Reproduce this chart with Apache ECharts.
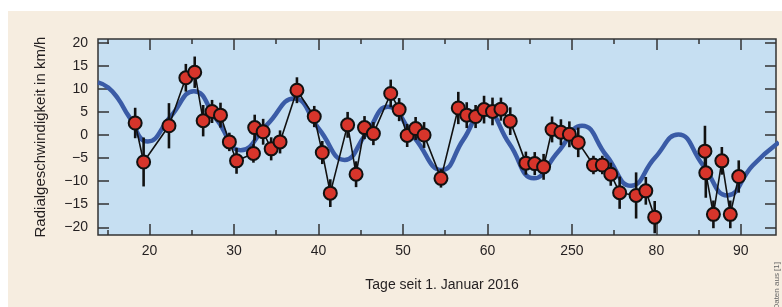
<!DOCTYPE html>
<html>
<head>
<meta charset="utf-8">
<script src="https://cdn.jsdelivr.net/npm/echarts@6/dist/echarts.min.js"></script>
<style>
  html, body { margin: 0; padding: 0; background: #fff; }
  #main { width: 782px; height: 307px; }
</style>
</head>
<body>
<div id="main"></div>
<script>
// Messwerte: Tag, Radialgeschwindigkeit, Fehler
var obsDay = [18.3, 19.3, 22.3, 24.3, 25.35, 26.35, 27.4, 28.4, 29.45, 30.3,
  32.3, 32.45, 33.45, 34.4, 35.45, 37.45, 39.5, 40.45, 41.4, 43.45,
  44.45, 45.45, 46.5, 48.55, 49.55, 50.5, 51.5, 52.5, 54.5, 56.55,
  57.55, 58.6, 59.6, 60.6, 61.6, 62.7, 64.55, 65.6, 66.65, 67.65,
  68.7, 69.7, 70.75, 72.55, 73.6, 74.6, 75.65, 77.6, 78.75, 79.8,
  85.75, 85.85, 86.75, 87.75, 88.75, 89.75];
var obsVel = [2.6, -5.85, 2.0, 12.4, 13.6, 3.1, 5.1, 4.3, -1.5, -5.6,
  -4.0, 1.6, 0.7, -3.0, -1.5, 9.7, 4.0, -3.8, -12.6, 2.2,
  -8.5, 1.6, 0.3, 9.0, 5.5, -0.1, 1.4, 0.0, -9.4, 5.85,
  4.3, 4.0, 5.5, 5.1, 5.6, 3.0, -6.1, -6.2, -6.9, 1.2,
  0.6, 0.15, -1.6, -6.5, -6.5, -8.5, -12.5, -13.1, -12.1, -17.8,
  -3.5, -8.2, -17.2, -5.6, -17.2, -9.0];
var obsErr = [3.3, 5.3, 4.9, 3.0, 3.4, 3.4, 2.5, 2.7, 2.0, 2.8,
  2.0, 2.8, 2.8, 2.5, 2.5, 2.8, 2.3, 2.5, 3.0, 2.8,
  2.8, 2.5, 2.5, 3.0, 2.5, 2.5, 2.5, 2.8, 2.0, 3.5,
  2.8, 2.5, 3.0, 3.0, 2.5, 3.0, 2.5, 2.5, 2.8, 2.8,
  2.8, 2.8, 3.2, 2.0, 2.0, 2.5, 3.5, 5.0, 3.0, 3.5,
  5.5, 5.4, 3.0, 3.0, 3.0, 3.5];

// Modellkurve
var fitDay = [13.9, 15.1, 16.3, 17.5, 19.8, 22.5, 25.25, 28.0, 30.8, 33.95,
  37.1, 40.1, 43.1, 45.65, 48.2, 51.4, 54.6, 57.15, 59.7, 62.6,
  65.5, 68.35, 71.2, 74.1, 77.0, 79.8, 82.6, 85.5, 88.4, 91.4,
  94.5];
var fitVel = [11.4, 10.3, 7.8, 4.2, -1.4, 4.0, 9.5, 3.2, -3.3, 2.3,
  7.9, 1.2, -5.4, 0.3, 6.1, -0.7, -7.6, -1.0, 5.6, -1.9,
  -9.4, -3.7, 2.0, -4.5, -11.0, -5.0, 0.1, -6.5, -13.1, -6.6,
  -1.6];

var xMajor = [20, 30, 40, 50, 60, 70, 80, 90];
var xLabels = ['20', '30', '40', '50', '60', '250', '80', '90'];
var xMinor = [15, 25, 35, 45, 55, 65, 75, 85];
var yTicks = [-20, -15, -10, -5, 0, 5, 10, 15, 20];
var yLabels = ['\u221220', '\u221215', '\u221210', '\u22125', '0', '5', '10', '15', '20'];

var xMin = 13.9, xMax = 94.16, yMin = -21.67, yMax = 20.8;
var font = '"Liberation Sans", Arial, sans-serif';
var ink = '#231f20';

// Verbindungslinie mit Lücke bei großen Abständen
var connData = [];
obsDay.forEach(function (d, i) {
  if (i > 0 && d - obsDay[i - 1] > 4) connData.push(['-', '-']);
  connData.push([d, obsVel[i]]);
});

function xAxisDef(pos, ticks, len, withLabels) {
  return {
    type: 'value', position: pos, min: xMin, max: xMax,
    axisLine: { show: false, onZero: false },
    splitLine: { show: false },
    axisTick: { show: true, inside: true, length: len, customValues: ticks,
      lineStyle: { color: '#333', width: 1.5 } },
    axisLabel: withLabels ? {
      show: true, customValues: ticks, margin: 9,
      fontFamily: font, fontSize: 14, color: ink,
      formatter: function (v) { return xLabels[xMajor.indexOf(v)]; }
    } : { show: false },
    name: withLabels ? 'Tage seit 1. Januar 2016' : '',
    nameLocation: 'middle', nameGap: 43,
    nameTextStyle: { fontFamily: font, fontSize: 14, color: ink, padding: [0, 0, 0, 10] }
  };
}

function yAxisDef(pos, withLabels) {
  return {
    type: 'value', position: pos, min: yMin, max: yMax,
    axisLine: { show: false, onZero: false },
    splitLine: { show: false },
    axisTick: { show: true, inside: true, length: 11, customValues: yTicks,
      lineStyle: { color: '#333', width: 1.5 } },
    axisLabel: withLabels ? {
      show: true, customValues: yTicks, margin: 10,
      fontFamily: font, fontSize: 14, color: ink,
      formatter: function (v) { return yLabels[yTicks.indexOf(v)]; }
    } : { show: false },
    name: withLabels ? 'Radialgeschwindigkeit in km/h' : '',
    nameLocation: 'middle', nameGap: 50,
    nameTextStyle: { fontFamily: font, fontSize: 15, color: ink }
  };
}

var chart = echarts.init(document.getElementById('main'));
chart.setOption({
  animation: false,
  backgroundColor: '#fff',
  graphic: [
    { type: 'rect', z: -10, shape: { x: 8, y: 11, width: 774, height: 296 },
      style: { fill: '#f6ede0' } },
    { type: 'text', x: 781, y: 262, rotation: Math.PI / 2, z: 10,
      style: { text: 'Daten aus [1]', font: '8px ' + font, fill: '#666',
        align: 'right', verticalAlign: 'bottom' } }
  ],
  grid: {
    left: 98, top: 39, width: 678, height: 196,
    show: true, backgroundColor: '#c6dff2', borderColor: '#333', borderWidth: 1.5
  },
  xAxis: [
    xAxisDef('bottom', xMajor, 11, true),
    xAxisDef('bottom', xMinor, 5, false),
    xAxisDef('top', xMajor, 11, false),
    xAxisDef('top', xMinor, 5, false)
  ],
  yAxis: [
    yAxisDef('left', true),
    yAxisDef('right', false)
  ],
  series: [
    {
      name: 'Modell', type: 'line', z: 1,
      data: fitDay.map(function (d, i) { return [d, fitVel[i]]; }),
      smooth: 0.5, symbol: 'none',
      lineStyle: { color: '#3a5ba6', width: 4.5 }
    },
    {
      name: 'Verbindung', type: 'line', z: 2,
      data: connData, connectNulls: false, symbol: 'none',
      lineStyle: { color: '#111', width: 1.6 }
    },
    {
      name: 'Fehler', type: 'custom', z: 3,
      data: obsDay.map(function (d, i) { return [d, obsVel[i] - obsErr[i], obsVel[i] + obsErr[i]]; }),
      encode: { x: 0, y: [1, 2] },
      renderItem: function (params, api) {
        var a = api.coord([api.value(0), api.value(1)]);
        var b = api.coord([api.value(0), api.value(2)]);
        return { type: 'line', shape: { x1: a[0], y1: a[1], x2: b[0], y2: b[1] },
          style: { stroke: '#111', lineWidth: 2.6 } };
      }
    },
    {
      name: 'Messwerte', type: 'scatter', z: 4,
      data: obsDay.map(function (d, i) { return [d, obsVel[i]]; }),
      symbol: 'circle', symbolSize: 13,
      itemStyle: { color: '#d7352b', borderColor: '#111', borderWidth: 2, opacity: 1 }
    }
  ]
});
</script>
</body>
</html>
